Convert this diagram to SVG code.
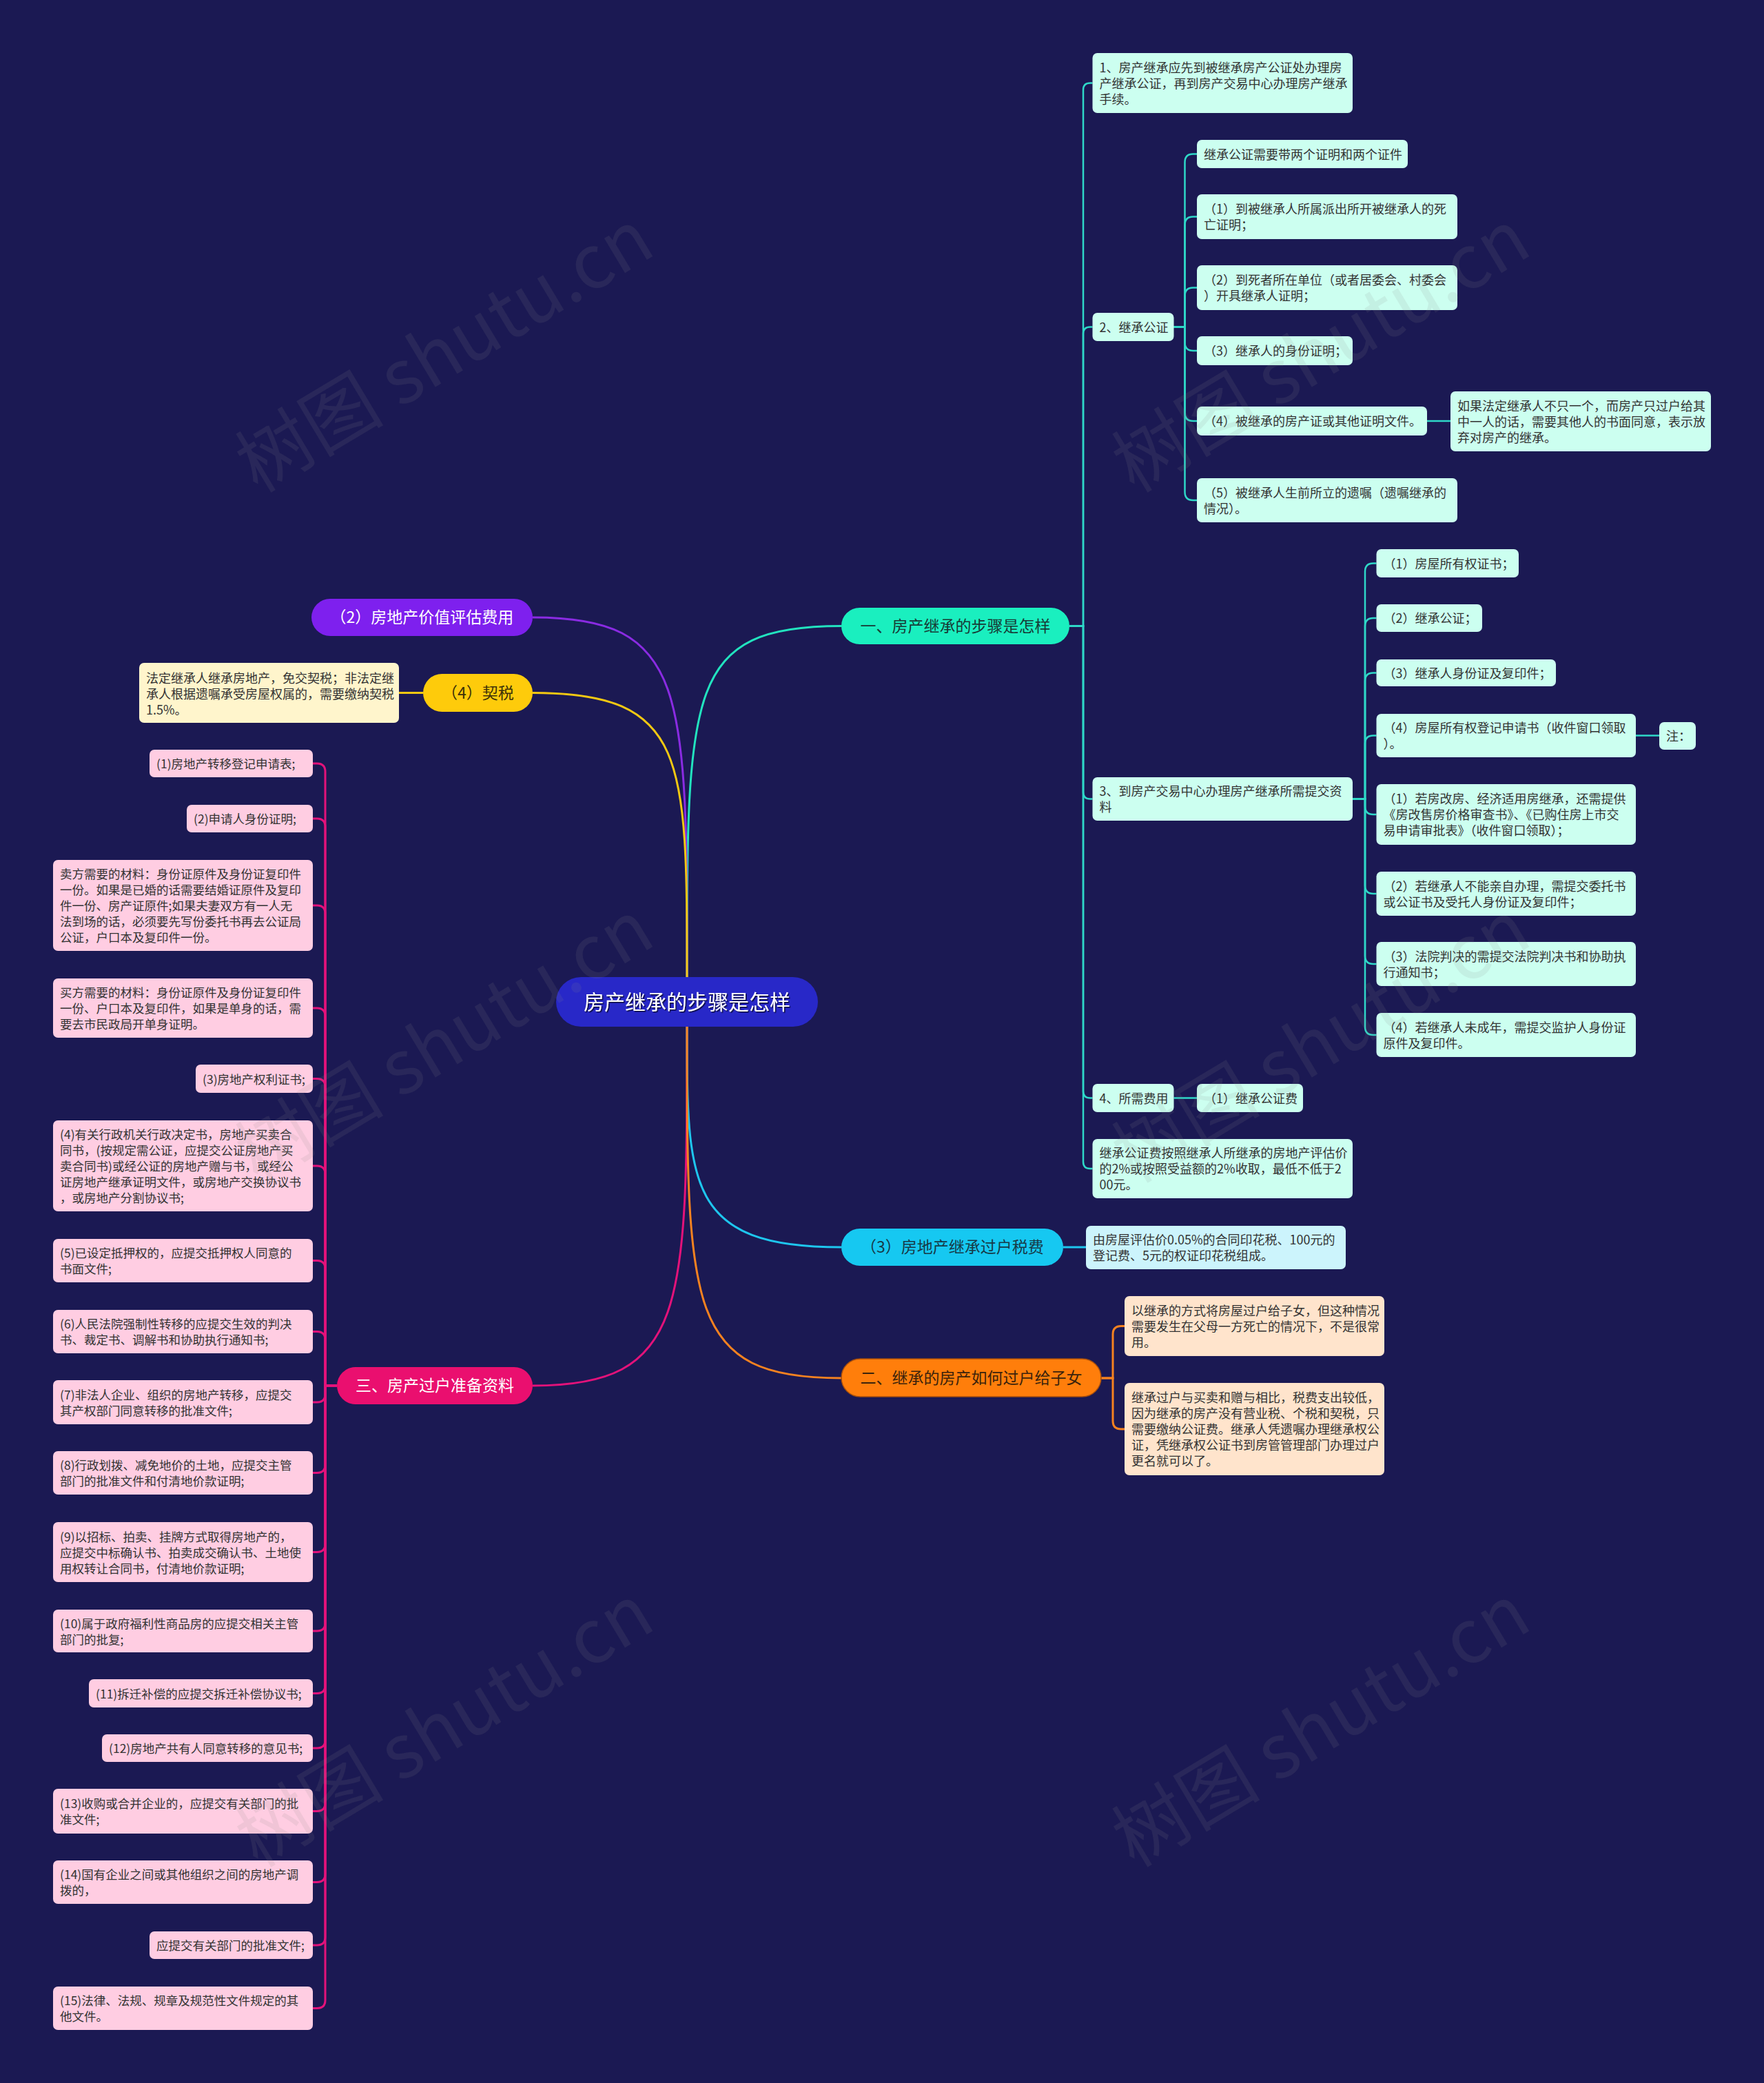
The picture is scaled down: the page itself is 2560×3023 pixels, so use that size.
<svg xmlns="http://www.w3.org/2000/svg" width="2560" height="3023" viewBox="0 0 2560 3023">
<style>
.t{font-family:"Noto Sans CJK SC","Noto Sans",sans-serif;font-size:18px;fill:#333333}
.tp{font-family:"Noto Sans CJK SC","Noto Sans",sans-serif;font-size:17.5px;fill:#333333}
.tb{font-family:"Noto Sans CJK SC","Noto Sans",sans-serif;font-size:23px;text-anchor:middle}
.nm{fill:#ccfff0}
.nc{fill:#ccf4fc}
.no{fill:#ffe4cc}
.ny{fill:#fff5cc}
.np{fill:#ffcde2}
.c1{fill:none;stroke:#2fd8c8;stroke-width:2.5}
.c{fill:none;stroke-width:3}
.wm{font-family:"Noto Sans CJK SC","Liberation Serif",serif;font-size:108px;fill:#8a8a8a;fill-opacity:0.13;text-anchor:middle}
</style>
<defs>
<filter id="ts" x="-10%" y="-30%" width="120%" height="160%"><feDropShadow dx="1.5" dy="1.5" stdDeviation="0.6" flood-color="#000000" flood-opacity="0.7"/></filter>
</defs>
<rect width="2560" height="3023" fill="#1b1953"/>

<g id="connectors">
<path class="c" stroke="#22e3bf" d="M997 1454V1418C997 1000 997 908.5 1221 908.5"/>
<path class="c" stroke="#8a2be2" d="M997 1454V1418C997 1000 997 896 773 896"/>
<path class="c" stroke="#f2c812" d="M997 1454V1418C997 1100 997 1005.5 773 1005.5"/>
<path class="c" stroke="#e3127a" d="M997 1454V1490C997 1900 997 2011 773 2011"/>
<path class="c" stroke="#1ec6ee" d="M997 1454V1490C997 1720 997 1810 1221 1810"/>
<path class="c" stroke="#f58220" d="M997 1454V1490C997 1900 997 2000 1221 2000"/>
<path class="c1" d="M1552 908.5H1572V130.5Q1572 120.5 1582 120.5H1585.5"/>
<path class="c1" d="M1552 908.5H1572V484.5Q1572 474.5 1582 474.5H1585.5"/>
<path class="c1" d="M1552 908.5H1572V1149.5Q1572 1159.5 1582 1159.5H1585.5"/>
<path class="c1" d="M1552 908.5H1572V1583.5Q1572 1593.5 1582 1593.5H1585.5"/>
<path class="c1" d="M1552 908.5H1572V1686Q1572 1696 1582 1696H1585.5"/>
<path class="c1" d="M1703.5 474.5H1719.5V235.5Q1719.5 223.5 1731.5 223.5H1737"/>
<path class="c1" d="M1703.5 474.5H1719.5V326.5Q1719.5 314.5 1731.5 314.5H1737"/>
<path class="c1" d="M1703.5 474.5H1719.5V429.5Q1719.5 417.5 1731.5 417.5H1737"/>
<path class="c1" d="M1703.5 474.5H1719.5V497Q1719.5 509 1731.5 509H1737"/>
<path class="c1" d="M1703.5 474.5H1719.5V599Q1719.5 611 1731.5 611H1737"/>
<path class="c1" d="M1703.5 474.5H1719.5V714Q1719.5 726 1731.5 726H1737"/>
<path class="c1" d="M2071 611H2105"/>
<path class="c1" d="M1963 1159.5H1981V829.5Q1981 817.5 1993 817.5H1997.5"/>
<path class="c1" d="M1963 1159.5H1981V909Q1981 897 1993 897H1997.5"/>
<path class="c1" d="M1963 1159.5H1981V988.5Q1981 976.5 1993 976.5H1997.5"/>
<path class="c1" d="M1963 1159.5H1981V1079.5Q1981 1067.5 1993 1067.5H1997.5"/>
<path class="c1" d="M1963 1159.5H1981V1170Q1981 1182 1993 1182H1997.5"/>
<path class="c1" d="M1963 1159.5H1981V1285Q1981 1297 1993 1297H1997.5"/>
<path class="c1" d="M1963 1159.5H1981V1387Q1981 1399 1993 1399H1997.5"/>
<path class="c1" d="M1963 1159.5H1981V1490Q1981 1502 1993 1502H1997.5"/>
<path class="c1" d="M2374 1067.5H2408"/>
<path class="c1" d="M1703.5 1593.5H1737"/>
<path class="c" stroke="#1ec6ee" stroke-width="2.5" d="M1543 1810H1576"/>
<path class="c" stroke="#f58220" stroke-width="2.5" d="M1598 2000H1615V1936.5Q1615 1924.5 1627 1924.5H1632"/>
<path class="c" stroke="#f58220" stroke-width="2.5" d="M1598 2000H1615V2062Q1615 2074 1627 2074H1632"/>
<path class="c" stroke="#f2c812" stroke-width="2.5" d="M614 1005.5H579"/>
<g class="c" stroke="#e3127a" stroke-width="2.5">
<path d="M489 2011H472V1120Q472 1108 460 1108H454"/>
<path d="M489 2011H472V1200Q472 1188 460 1188H454"/>
<path d="M489 2011H472V1326Q472 1314 460 1314H454"/>
<path d="M489 2011H472V1475Q472 1463 460 1463H454"/>
<path d="M489 2011H472V1577.5Q472 1565.5 460 1565.5H454"/>
<path d="M489 2011H472V1704Q472 1692 460 1692H454"/>
<path d="M489 2011H472V1841.5Q472 1829.5 460 1829.5H454"/>
<path d="M489 2011H472V1944.5Q472 1932.5 460 1932.5H454"/>
<path d="M489 2011H472V2023Q472 2035 460 2035H454"/>
<path d="M489 2011H472V2125.5Q472 2137.5 460 2137.5H454"/>
<path d="M489 2011H472V2240.5Q472 2252.5 460 2252.5H454"/>
<path d="M489 2011H472V2355Q472 2367 460 2367H454"/>
<path d="M489 2011H472V2445.5Q472 2457.5 460 2457.5H454"/>
<path d="M489 2011H472V2525Q472 2537 460 2537H454"/>
<path d="M489 2011H472V2616.5Q472 2628.5 460 2628.5H454"/>
<path d="M489 2011H472V2719.5Q472 2731.5 460 2731.5H454"/>
<path d="M489 2011H472V2811Q472 2823 460 2823H454"/>
<path d="M489 2011H472V2902.5Q472 2914.5 460 2914.5H454"/>
</g>
</g>

<g id="root">
<rect x="807" y="1418" width="380" height="72" rx="36" fill="#2828c8"/>
<text x="997" y="1465" font-family="Noto Sans CJK SC, sans-serif" font-size="30" fill="#ffffff" text-anchor="middle" filter="url(#ts)">房产继承的步骤是怎样</text>
</g>

<g id="b1"><rect x="1221" y="882" width="331" height="53" rx="26.5" fill="#1aefbf"/><text class="tb" x="1386.5" y="916.5" fill="#173b36">一、房产继承的步骤是怎样</text></g>
<g id="b2"><rect x="452" y="869" width="321" height="54" rx="27" fill="#7e20ee"/><text class="tb" x="612.5" y="904" fill="#ffffff">（2）房地产价值评估费用</text></g>
<g id="b3"><rect x="614" y="978" width="159" height="55" rx="27.5" fill="#fecb0b"/><text class="tb" x="693.5" y="1013.5" fill="#3d3208">（4）契税</text></g>
<g id="b4"><rect x="489" y="1984" width="284" height="54" rx="27" fill="#ea0f6f"/><text class="tb" x="631" y="2019" fill="#ffffff">三、房产过户准备资料</text></g>
<g id="b5"><rect x="1221" y="1783" width="322" height="54" rx="27" fill="#16c8f1"/><text class="tb" x="1382" y="1818" fill="#173a47">（3）房地产继承过户税费</text></g>
<g id="b6"><rect x="1221" y="1972" width="377" height="55" rx="27.5" fill="#ff7e0b" stroke="#a84f0c" stroke-width="1.5"/><text class="tb" x="1409.5" y="2007.5" fill="#3b230c">二、继承的房产如何过户给子女</text></g>

<g id="n1"><rect class="nm" x="1585.5" y="77" width="377.5" height="87" rx="7"/><text class="t" x="1595.5" y="104.5"><tspan x="1595.5">1、房产继承应先到被继承房产公证处办理房</tspan><tspan x="1595.5" dy="23">产继承公证，再到房产交易中心办理房产继承</tspan><tspan x="1595.5" dy="23">手续。</tspan></text></g>
<g id="n2"><rect class="nm" x="1585.5" y="454" width="118" height="41" rx="7"/><text class="t" x="1595.5" y="481.5">2、继承公证</text></g>
<g id="n2a"><rect class="nm" x="1737" y="203" width="306" height="41" rx="7"/><text class="t" x="1747" y="230.5">继承公证需要带两个证明和两个证件</text></g>
<g id="n2b"><rect class="nm" x="1737" y="282" width="378" height="65" rx="7"/><text class="t" y="310"><tspan x="1747">（1）到被继承人所属派出所开被继承人的死</tspan><tspan x="1747" dy="23">亡证明；</tspan></text></g>
<g id="n2c"><rect class="nm" x="1737" y="385" width="378" height="65" rx="7"/><text class="t" y="413"><tspan x="1747">（2）到死者所在单位（或者居委会、村委会</tspan><tspan x="1747" dy="23">）开具继承人证明；</tspan></text></g>
<g id="n2d"><rect class="nm" x="1737" y="488" width="226" height="42" rx="7"/><text class="t" x="1747" y="516">（3）继承人的身份证明；</text></g>
<g id="n2e"><rect class="nm" x="1737" y="590" width="334" height="42" rx="7"/><text class="t" x="1747" y="618">（4）被继承的房产证或其他证明文件。</text></g>
<g id="n2e1"><rect class="nm" x="2105" y="568" width="378" height="87" rx="7"/><text class="t" y="595.5"><tspan x="2115">如果法定继承人不只一个，而房产只过户给其</tspan><tspan x="2115" dy="23">中一人的话，需要其他人的书面同意，表示放</tspan><tspan x="2115" dy="23">弃对房产的继承。</tspan></text></g>
<g id="n2f"><rect class="nm" x="1737" y="694" width="378" height="64" rx="7"/><text class="t" y="721.5"><tspan x="1747">（5）被继承人生前所立的遗嘱（遗嘱继承的</tspan><tspan x="1747" dy="23">情况）。</tspan></text></g>
<g id="n3"><rect class="nm" x="1585.5" y="1128" width="377.5" height="63" rx="7"/><text class="t" y="1155"><tspan x="1595.5">3、到房产交易中心办理房产继承所需提交资</tspan><tspan x="1595.5" dy="23">料</tspan></text></g>
<g id="n3a"><rect class="nm" x="1997.5" y="797" width="206.5" height="41" rx="7"/><text class="t" x="2007.5" y="824.5">（1）房屋所有权证书；</text></g>
<g id="n3b"><rect class="nm" x="1997.5" y="877" width="153.5" height="40" rx="7"/><text class="t" x="2007.5" y="904">（2）继承公证；</text></g>
<g id="n3c"><rect class="nm" x="1997.5" y="957" width="260.5" height="39" rx="7"/><text class="t" x="2007.5" y="983.5">（3）继承人身份证及复印件；</text></g>
<g id="n3d"><rect class="nm" x="1997.5" y="1036" width="376.5" height="63" rx="7"/><text class="t" y="1063"><tspan x="2007.5">（4）房屋所有权登记申请书（收件窗口领取</tspan><tspan x="2007.5" dy="23">）。</tspan></text></g>
<g id="n3d1"><rect class="nm" x="2408" y="1048" width="53" height="40" rx="7"/><text class="t" x="2418" y="1075">注：</text></g>
<g id="n3e"><rect class="nm" x="1997.5" y="1138" width="376.5" height="88" rx="7"/><text class="t" y="1166"><tspan x="2007.5">（1）若房改房、经济适用房继承，还需提供</tspan><tspan x="2007.5" dy="23">《房改售房价格审查书》、《已购住房上市交</tspan><tspan x="2007.5" dy="23">易申请审批表》（收件窗口领取）；</tspan></text></g>
<g id="n3f"><rect class="nm" x="1997.5" y="1265" width="376.5" height="64" rx="7"/><text class="t" y="1292.5"><tspan x="2007.5">（2）若继承人不能亲自办理，需提交委托书</tspan><tspan x="2007.5" dy="23">或公证书及受托人身份证及复印件；</tspan></text></g>
<g id="n3g"><rect class="nm" x="1997.5" y="1367" width="376.5" height="64" rx="7"/><text class="t" y="1394.5"><tspan x="2007.5">（3）法院判决的需提交法院判决书和协助执</tspan><tspan x="2007.5" dy="23">行通知书；</tspan></text></g>
<g id="n3h"><rect class="nm" x="1997.5" y="1470" width="376.5" height="64" rx="7"/><text class="t" y="1497.5"><tspan x="2007.5">（4）若继承人未成年，需提交监护人身份证</tspan><tspan x="2007.5" dy="23">原件及复印件。</tspan></text></g>
<g id="n4"><rect class="nm" x="1585.5" y="1573" width="118" height="41" rx="7"/><text class="t" x="1595.5" y="1600.5">4、所需费用</text></g>
<g id="n4a"><rect class="nm" x="1737" y="1573" width="154" height="41" rx="7"/><text class="t" x="1747" y="1600.5">（1）继承公证费</text></g>
<g id="n5"><rect class="nm" x="1585.5" y="1653" width="377.5" height="86" rx="7"/><text class="t" y="1680"><tspan x="1595.5">继承公证费按照继承人所继承的房地产评估价</tspan><tspan x="1595.5" dy="23">的2%或按照受益额的2%收取，最低不低于2</tspan><tspan x="1595.5" dy="23">00元。</tspan></text></g>

<g id="t1"><rect class="nc" x="1576" y="1779" width="377" height="63" rx="7"/><text class="t" y="1806"><tspan x="1586">由房屋评估价0.05%的合同印花税、100元的</tspan><tspan x="1586" dy="23">登记费、5元的权证印花税组成。</tspan></text></g>

<g id="o1"><rect class="no" x="1632" y="1881" width="377" height="87" rx="7"/><text class="t" y="1908.5"><tspan x="1642">以继承的方式将房屋过户给子女，但这种情况</tspan><tspan x="1642" dy="23">需要发生在父母一方死亡的情况下，不是很常</tspan><tspan x="1642" dy="23">用。</tspan></text></g>
<g id="o2"><rect class="no" x="1632" y="2007" width="377" height="134" rx="7"/><text class="t" y="2035"><tspan x="1642">继承过户与买卖和赠与相比，税费支出较低，</tspan><tspan x="1642" dy="23">因为继承的房产没有营业税、个税和契税，只</tspan><tspan x="1642" dy="23">需要缴纳公证费。继承人凭遗嘱办理继承权公</tspan><tspan x="1642" dy="23">证，凭继承权公证书到房管管理部门办理过户</tspan><tspan x="1642" dy="23">更名就可以了。</tspan></text></g>

<g id="y1"><rect class="ny" x="202" y="962" width="377" height="87" rx="7"/><text class="t" y="991"><tspan x="212">法定继承人继承房地产，免交契税；非法定继</tspan><tspan x="212" dy="23">承人根据遗嘱承受房屋权属的，需要缴纳契税</tspan><tspan x="212" dy="23">1.5%。</tspan></text></g>

<g id="p1"><rect class="np" x="217" y="1088" width="237" height="40" rx="7"/><text class="tp" x="227" y="1115">(1)房地产转移登记申请表;</text></g>
<g id="p2"><rect class="np" x="271" y="1168" width="183" height="40" rx="7"/><text class="tp" x="281" y="1195">(2)申请人身份证明;</text></g>
<g id="p3"><rect class="np" x="77" y="1248" width="377" height="132" rx="7"/><text class="tp" y="1275"><tspan x="87">卖方需要的材料：身份证原件及身份证复印件</tspan><tspan x="87" dy="23">一份。如果是已婚的话需要结婚证原件及复印</tspan><tspan x="87" dy="23">件一份、房产证原件;如果夫妻双方有一人无</tspan><tspan x="87" dy="23">法到场的话，必须要先写份委托书再去公证局</tspan><tspan x="87" dy="23">公证，户口本及复印件一份。</tspan></text></g>
<g id="p4"><rect class="np" x="77" y="1420" width="377" height="86" rx="7"/><text class="tp" y="1447"><tspan x="87">买方需要的材料：身份证原件及身份证复印件</tspan><tspan x="87" dy="23">一份、户口本及复印件，如果是单身的话，需</tspan><tspan x="87" dy="23">要去市民政局开单身证明。</tspan></text></g>
<g id="p5"><rect class="np" x="284" y="1545" width="170" height="41" rx="7"/><text class="tp" x="294" y="1572.5">(3)房地产权利证书;</text></g>
<g id="p6"><rect class="np" x="77" y="1626" width="377" height="132" rx="7"/><text class="tp" y="1653"><tspan x="87">(4)有关行政机关行政决定书，房地产买卖合</tspan><tspan x="87" dy="23">同书，(按规定需公证，应提交公证房地产买</tspan><tspan x="87" dy="23">卖合同书)或经公证的房地产赠与书，或经公</tspan><tspan x="87" dy="23">证房地产继承证明文件，或房地产交换协议书</tspan><tspan x="87" dy="23">，或房地产分割协议书;</tspan></text></g>
<g id="p7"><rect class="np" x="77" y="1798" width="377" height="63" rx="7"/><text class="tp" y="1825"><tspan x="87">(5)已设定抵押权的，应提交抵押权人同意的</tspan><tspan x="87" dy="23">书面文件;</tspan></text></g>
<g id="p8"><rect class="np" x="77" y="1901" width="377" height="63" rx="7"/><text class="tp" y="1928"><tspan x="87">(6)人民法院强制性转移的应提交生效的判决</tspan><tspan x="87" dy="23">书、裁定书、调解书和协助执行通知书;</tspan></text></g>
<g id="p9"><rect class="np" x="77" y="2003" width="377" height="64" rx="7"/><text class="tp" y="2030.5"><tspan x="87">(7)非法人企业、组织的房地产转移，应提交</tspan><tspan x="87" dy="23">其产权部门同意转移的批准文件;</tspan></text></g>
<g id="p10"><rect class="np" x="77" y="2106" width="377" height="63" rx="7"/><text class="tp" y="2133"><tspan x="87">(8)行政划拨、减免地价的土地，应提交主管</tspan><tspan x="87" dy="23">部门的批准文件和付清地价款证明;</tspan></text></g>
<g id="p11"><rect class="np" x="77" y="2209" width="377" height="87" rx="7"/><text class="tp" y="2236.5"><tspan x="87">(9)以招标、拍卖、挂牌方式取得房地产的，</tspan><tspan x="87" dy="23">应提交中标确认书、拍卖成交确认书、土地使</tspan><tspan x="87" dy="23">用权转让合同书，付清地价款证明;</tspan></text></g>
<g id="p12"><rect class="np" x="77" y="2336" width="377" height="62" rx="7"/><text class="tp" y="2362.5"><tspan x="87">(10)属于政府福利性商品房的应提交相关主管</tspan><tspan x="87" dy="23">部门的批复;</tspan></text></g>
<g id="p13"><rect class="np" x="129" y="2437" width="325" height="41" rx="7"/><text class="tp" x="139" y="2464.5">(11)拆迁补偿的应提交拆迁补偿协议书;</text></g>
<g id="p14"><rect class="np" x="148" y="2517" width="306" height="40" rx="7"/><text class="tp" x="158" y="2544">(12)房地产共有人同意转移的意见书;</text></g>
<g id="p15"><rect class="np" x="77" y="2596" width="377" height="65" rx="7"/><text class="tp" y="2624"><tspan x="87">(13)收购或合并企业的，应提交有关部门的批</tspan><tspan x="87" dy="23">准文件;</tspan></text></g>
<g id="p16"><rect class="np" x="77" y="2700" width="377" height="63" rx="7"/><text class="tp" y="2727"><tspan x="87">(14)国有企业之间或其他组织之间的房地产调</tspan><tspan x="87" dy="23">拨的，</tspan></text></g>
<g id="p17"><rect class="np" x="217" y="2803" width="237" height="40" rx="7"/><text class="tp" x="227" y="2830">应提交有关部门的批准文件;</text></g>
<g id="p18"><rect class="np" x="77" y="2883" width="377" height="63" rx="7"/><text class="tp" y="2910"><tspan x="87">(15)法律、法规、规章及规范性文件规定的其</tspan><tspan x="87" dy="23">他文件。</tspan></text></g>

<g id="watermarks">
<text class="wm" transform="translate(646 511) rotate(-31)" y="36">树图 shutu.cn</text>
<text class="wm" transform="translate(1918 511) rotate(-31)" y="36">树图 shutu.cn</text>
<text class="wm" transform="translate(646 1513) rotate(-31)" y="36">树图 shutu.cn</text>
<text class="wm" transform="translate(1918 1513) rotate(-31)" y="36">树图 shutu.cn</text>
<text class="wm" transform="translate(646 2506) rotate(-31)" y="36">树图 shutu.cn</text>
<text class="wm" transform="translate(1918 2506) rotate(-31)" y="36">树图 shutu.cn</text>
</g>
</svg>
